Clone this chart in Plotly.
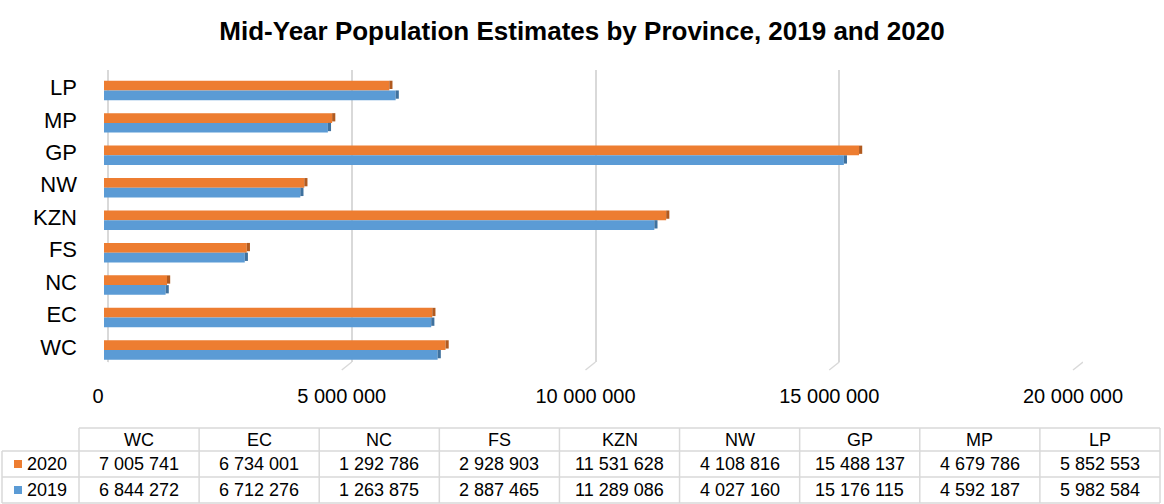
import plotly.graph_objects as go

# Mid-year population estimates per province
provinces = ["WC", "EC", "NC", "FS", "KZN", "NW", "GP", "MP", "LP"]
pop_2020 = [7005741, 6734001, 1292786, 2928903, 11531628, 4108816, 15488137, 4679786, 5852553]
pop_2019 = [6844272, 6712276, 1263875, 2887465, 11289086, 4027160, 15176115, 4592187, 5982584]
x_ticks = [0, 5000000, 10000000, 15000000, 20000000]
x_tick_labels = ["0", "5 000 000", "10 000 000", "15 000 000", "20 000 000"]

W, H = 1164, 504
ORANGE, ORANGE_DARK = "#ED7D31", "#B15A1F"
BLUE, BLUE_DARK = "#5B9BD5", "#3F719E"
GRID = "#D9D9D9"
FONT = "Arial, Liberation Sans, sans-serif"

# plot-area geometry in pixels (back wall); bars sit a few pixels in front
px_left, px_right = 108, 1083
px_top, px_bottom = 70, 362
front_shift = 4
bar_w = 0.30
depth = 65000  # visual thickness of the bar end face

# data-table geometry in pixels
tbl_left, tbl_key_right, tbl_right = 2, 79, 1160
tbl_rows = [428, 451, 477, 503]  # row boundaries (header, 2020, 2019)


def fmt(v):
    return f"{v:,}".replace(",", " ")


def py(p):
    """pixel row -> paper y"""
    return 1 - p / H


def px(p):
    """pixel column -> paper x"""
    return p / W


fig = go.Figure()

# back-wall subplot carrying the gridlines and value labels
fig.add_trace(go.Scatter(
    x=x_ticks, y=[provinces[0]] * len(x_ticks), xaxis="x", mode="markers",
    marker=dict(opacity=0), showlegend=False, hoverinfo="skip",
))

series = [
    ("2020", pop_2020, ORANGE, ORANGE_DARK, 0.0),
    ("2019", pop_2019, BLUE, BLUE_DARK, -bar_w),
]
for name, vals, col, dark, off in series:
    fig.add_trace(go.Bar(
        y=provinces, x=vals, orientation="h", name=name, xaxis="x2",
        marker=dict(color=col, line=dict(width=0)),
        width=bar_w, offset=off, showlegend=False,
    ))
    # darker end face giving the bars some depth
    fig.add_trace(go.Bar(
        y=provinces, x=[depth] * len(vals), base=vals, orientation="h",
        xaxis="x2",
        marker=dict(color=dark, line=dict(width=0)),
        width=bar_w * 0.85, offset=off + bar_w * 0.15, showlegend=False,
        hoverinfo="skip",
    ))

# short slanted feet under each gridline (floor of the 3D box)
for t in x_ticks:
    fig.add_shape(
        type="line", xref="x", yref="paper",
        xsizemode="pixel", xanchor=t, x0=0, x1=-10,
        ysizemode="pixel", yanchor=py(px_bottom), y0=0, y1=-8,
        line=dict(color=GRID, width=1.5), layer="below",
    )

# ---- data table under the chart ----
line_style = dict(color=GRID, width=1.5)
col_w = (tbl_right - tbl_key_right) / len(provinces)
col_edges = [tbl_key_right + i * col_w for i in range(len(provinces) + 1)]

# horizontal rules
fig.add_shape(type="line", xref="paper", yref="paper",
              x0=px(tbl_key_right), x1=px(tbl_right),
              y0=py(tbl_rows[0]), y1=py(tbl_rows[0]), line=line_style)
for r in tbl_rows[1:]:
    fig.add_shape(type="line", xref="paper", yref="paper",
                  x0=px(tbl_left), x1=px(tbl_right),
                  y0=py(r), y1=py(r), line=line_style)
# vertical rules
fig.add_shape(type="line", xref="paper", yref="paper",
              x0=px(tbl_left), x1=px(tbl_left),
              y0=py(tbl_rows[1]), y1=py(tbl_rows[-1]), line=line_style)
for e in col_edges:
    fig.add_shape(type="line", xref="paper", yref="paper",
                  x0=px(e), x1=px(e),
                  y0=py(tbl_rows[0]), y1=py(tbl_rows[-1]), line=line_style)

TBL_FONT = dict(family=FONT, size=18, color="#000000")
row_mid = [(tbl_rows[i] + tbl_rows[i + 1]) / 2 for i in range(3)]


def cell(text, xc, yc, **kw):
    fig.add_annotation(text=text, xref="paper", yref="paper",
                       x=px(xc), y=py(yc), showarrow=False,
                       xanchor=kw.get("xanchor", "center"), yanchor="middle",
                       font=kw.get("font", TBL_FONT))


for i, name in enumerate(provinces):
    xc = (col_edges[i] + col_edges[i + 1]) / 2
    cell(name, xc, row_mid[0])
    cell(fmt(pop_2020[i]), xc, row_mid[1])
    cell(fmt(pop_2019[i]), xc, row_mid[2])

# series keys in the first column
for (name, _vals, col, _dark, _off), yc in zip(series, row_mid[1:]):
    fig.add_shape(type="rect", xref="paper", yref="paper",
                  x0=px(14), x1=px(22), y0=py(yc - 4), y1=py(yc + 4),
                  fillcolor=col, line=dict(width=0))
    cell(name, 25, yc, xanchor="left")

fig.update_layout(
    width=W, height=H,
    margin=dict(l=0, r=0, t=0, b=0, autoexpand=False),
    paper_bgcolor="white", plot_bgcolor="rgba(0,0,0,0)",
    barmode="overlay",
    font=dict(family=FONT, color="#000000"),
    title=dict(
        text="<b>Mid-Year Population Estimates by Province, 2019 and 2020</b>",
        x=0.5, xanchor="center", y=py(31), yanchor="middle",
        font=dict(family=FONT, size=26, color="#000000"),
    ),
    # back-wall axis: gridlines and value labels
    xaxis=dict(
        domain=[px(px_left), px(px_right)], anchor="y",
        range=[0, 20000000], tickvals=x_ticks, ticktext=x_tick_labels,
        showgrid=True, gridcolor=GRID, gridwidth=1.5,
        zeroline=True, zerolinecolor=GRID, zerolinewidth=1.5,
        showline=False, ticks="", automargin=False,
        tickfont=dict(size=20, color="#000000"),
        ticklabelstandoff=20, ticklabelshift=-10,
        fixedrange=True,
    ),
    # bar axis (front face of the bars)
    xaxis2=dict(
        domain=[px(px_left - front_shift), px(px_right - front_shift)],
        anchor="y", range=[0, 20000000],
        showgrid=False, zeroline=False, showline=False,
        showticklabels=False, ticks="", automargin=False,
    ),
    yaxis=dict(
        domain=[py(px_bottom), py(px_top)],
        range=[-0.37, 8.63],
        categoryorder="array", categoryarray=provinces,
        showgrid=False, zeroline=False, showline=False, ticks="",
        automargin=False,
        tickfont=dict(size=22, color="#000000"),
        ticklabelstandoff=30, ticklabelshift=-3,
    ),
)

fig.write_html("out.html")
